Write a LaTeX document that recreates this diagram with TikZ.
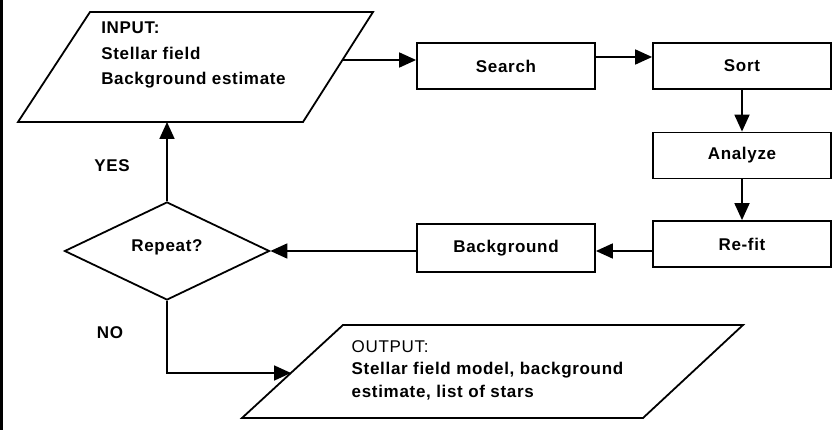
\documentclass[tikz,border=0pt]{standalone}
\usepackage{fontspec}
\setmainfont{Liberation Sans}[LetterSpace=4]
\usetikzlibrary{arrows.meta, shapes.geometric}

\begin{document}
\begin{tikzpicture}[x=1pt, y=-1pt, line width=1.8pt,
    txt/.style={font=\bfseries\fontsize{17}{20}\selectfont},
    box/.style={draw, rectangle, minimum width=178pt, minimum height=46pt, txt},
    arr/.style={-{Triangle[length=17pt, width=15pt]}}]

  \useasboundingbox (0,0) rectangle (838,430);
  \fill[black] (0,0) rectangle (2.5,430);

  % Input / output (parallelograms)
  \draw (18,122) -- (303,122) -- (373,12) -- (90,12) -- cycle;
  \coordinate (inpr) at (342.5,60);
  \coordinate (inpb) at (167,122);
  \node[txt, align=left, font=\bfseries\fontsize{17}{25.5}\selectfont] (inptext) at (193.5,55)
    {INPUT:\\Stellar field\\Background estimate};
  \draw (242,418) -- (643,418) -- (743,325) -- (343,325) -- cycle;
  \coordinate (outl) at (291,373);
  \node[txt, align=left, font=\bfseries\fontsize{17}{22.5}\selectfont] (outtext) at (487.5,370)
    {\mdseries OUTPUT:\\Stellar field model, background\\estimate, list of stars};

  % Processing steps
  \node[box] (search) at (506,66) {Search};
  \node[box] (sort) at (742,66) {Sort};
  \node[box] (analyze) at (742,155.5) {Analyze};
  \node[box] (refit) at (742,244) {Re-fit};
  \node[box, minimum height=48pt] (bg) at (506,248) {Background};

  % Decision
  \node[draw, diamond, minimum width=205pt, minimum height=98pt, inner sep=0pt, txt] (rep) at (167,251)
    {\raisebox{10pt}{Repeat?}};
  \node[txt] (yes) at (112,166) {YES};
  \node[txt] (no) at (110,333) {NO};

  % Connectors
  \draw[arr] (inpr) -- (inpr -| search.west);
  \draw[arr] ([yshift=9pt]search.east) -- ([yshift=9pt]sort.west);
  \draw[arr] (sort) -- (analyze);
  \draw[arr] (analyze) -- (refit);
  \draw[arr] (refit.west |- rep.east) -- (bg.east |- rep.east);
  \draw[arr] (bg.west |- rep.east) -- (rep.east);
  \draw[arr] (rep.north) -- (inpb);
  \draw[arr] (rep.south) |- (outl);
\end{tikzpicture}
\end{document}
